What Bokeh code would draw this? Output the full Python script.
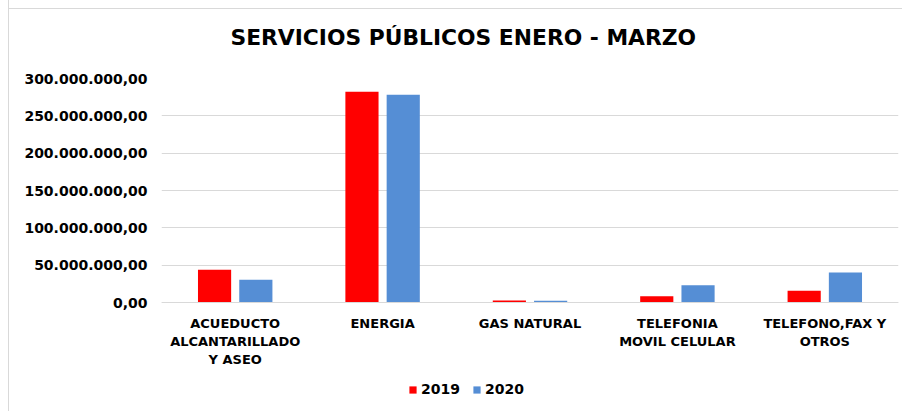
from bokeh.plotting import figure
from bokeh.models import FactorRange, Legend, LegendItem, FixedTicker, Title, ColumnDataSource, Range1d
from bokeh.transform import dodge
from bokeh.embed import file_html
from bokeh.resources import INLINE

# ---- data ----
categories = [
    "ACUEDUCTO\nALCANTARILLADO\nY ASEO",
    "ENERGIA",
    "GAS NATURAL",
    "TELEFONIA\nMOVIL CELULAR",
    "TELEFONO,FAX Y\nOTROS",
]
series_names = ["2019", "2020"]
values_2019 = [43_700_000, 282_200_000, 2_700_000, 8_400_000, 15_600_000]
values_2020 = [30_400_000, 278_200_000, 2_300_000, 23_200_000, 40_100_000]
y_ticks = [0, 50_000_000, 100_000_000, 150_000_000, 200_000_000, 250_000_000, 300_000_000]
y_tick_labels = ["0,00", "50.000.000,00", "100.000.000,00", "150.000.000,00",
                 "200.000.000,00", "250.000.000,00", "300.000.000,00"]
title_text = "SERVICIOS PÚBLICOS ENERO - MARZO"

FONT = "DejaVu Sans"
GRID = "#d9d9d9"
RED = "#ff0000"
BLUE = "#558ed5"

# layout: value axis spans DATA_H px; the frame continues below zero to hold labels + legend
Y_MAX = y_ticks[-1]
DATA_H = 224
FRAME_H = 334
y_start = -Y_MAX * (FRAME_H - DATA_H) / DATA_H

source = ColumnDataSource(dict(cat=categories, v2019=values_2019, v2020=values_2020))

p = figure(
    frame_width=737, frame_height=FRAME_H,
    x_range=FactorRange(*categories, range_padding=0),
    y_range=Range1d(y_start, Y_MAX),
    output_backend="svg", toolbar_location=None,
    min_border_left=152, min_border_right=4, min_border_top=84, min_border_bottom=0,
)
# chart border (top line at y=8, left line at x=8) drawn by the host element
p.styles = {
    "margin-top": "-7px", "margin-left": "8px",
    "border-left": "1px solid #d9d9d9",
    "background": "linear-gradient(#d9d9d9, #d9d9d9) 0 15px / 100% 1px no-repeat, #ffffff",
}
p.title = None
p.add_layout(Title(text=title_text, align="left", offset=69, standoff=58,
                   text_font=FONT, text_font_size="21.8px", text_font_style="bold",
                   text_color="#000000"), "above")

r1 = p.vbar(x=dodge("cat", -0.14, range=p.x_range), top="v2019", width=0.225,
            source=source, fill_color=RED, line_color=None)
r2 = p.vbar(x=dodge("cat", 0.14, range=p.x_range), top="v2020", width=0.225,
            source=source, fill_color=BLUE, line_color=None)

p.outline_line_color = None
p.background_fill_color = "white"
p.border_fill_color = None

# y axis
p.yaxis.ticker = FixedTicker(ticks=y_ticks)
p.yaxis.major_label_overrides = {t: l for t, l in zip(y_ticks, y_tick_labels)}
p.yaxis.axis_line_color = None
p.yaxis.major_tick_line_color = None
p.yaxis.minor_tick_line_color = None
p.yaxis.major_label_standoff = 8
p.yaxis.major_label_text_font = FONT
p.yaxis.major_label_text_font_size = "14px"
p.yaxis.major_label_text_font_style = "bold"
p.yaxis.major_label_text_color = "#000000"

# x axis, drawn at value zero
p.xaxis.fixed_location = 0
p.xaxis.axis_line_color = GRID
p.xaxis.axis_line_width = 1
p.xaxis.major_tick_line_color = None
p.xaxis.minor_tick_line_color = None
p.xaxis.major_label_standoff = 7
p.xaxis.major_label_text_font = FONT
p.xaxis.major_label_text_font_size = "13px"
p.xaxis.major_label_text_font_style = "bold"
p.xaxis.major_label_text_color = "#000000"
p.xaxis.major_label_text_line_height = 1.2

p.xgrid.grid_line_color = None
p.ygrid.grid_line_color = GRID
p.ygrid.grid_line_width = 1

legend = Legend(
    items=[LegendItem(label=series_names[0], renderers=[r1]),
           LegendItem(label=series_names[1], renderers=[r2])],
    orientation="horizontal", location=(247, 15),
    glyph_width=9, glyph_height=9, label_standoff=4, spacing=12,
    padding=8, margin=0, border_line_color=None, background_fill_alpha=0,
    label_text_font=FONT, label_text_font_size="14px", label_text_font_style="bold",
    label_text_color="#000000",
)
p.add_layout(legend, "center")

open("out.html", "w").write(file_html(p, INLINE))
